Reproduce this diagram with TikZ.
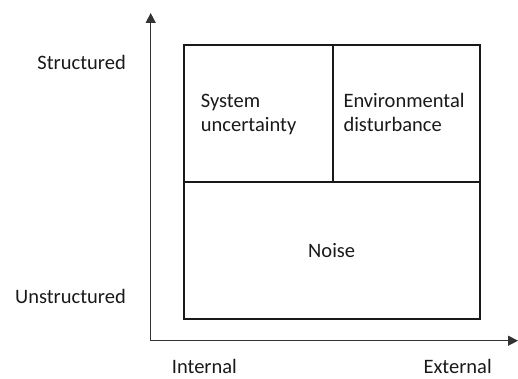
\documentclass[tikz,border=0pt]{standalone}
\usepackage{fontspec}
\setmainfont{Carlito}
\usetikzlibrary{arrows.meta}
\begin{document}
\begin{tikzpicture}[x=1pt,y=-1pt,
  cell/.style={draw=black!90, line width=2pt, inner sep=0pt, anchor=north west},
  axis/.style={draw=black!80, line width=1.4pt, -{Triangle[length=10pt,width=10pt]}},
  lbl/.style={font=\fontsize{20.5}{23.7}\selectfont, text=black!90, inner sep=0pt},
  ]
\useasboundingbox (0,0) rectangle (518,379);
\coordinate (o) at (150.7,340.7);
\coordinate (ytop) at (150.7,13);
\coordinate (xend) at (518,340.7);
\draw[axis] (o) -- (ytop);
\draw[axis] (o) -- (xend);
\node[cell, minimum width=149pt, minimum height=137.3pt] (sys) at (183.3,44) {};
\node[cell, minimum width=147pt, minimum height=137.3pt] (env) at (332.3,44) {};
\node[cell, minimum width=296pt, minimum height=137pt] (noise) at (183.3,181.3) {};
\node[lbl, anchor=base west, align=left] (t1) at (200.7,108) {System};
\node[lbl, anchor=base west, align=left] (t2) at (200.7,131.7) {uncertainty};
\node[lbl, anchor=base west, align=left] (t3) at (343.3,108) {Environmental};
\node[lbl, anchor=base west, align=left] (t4) at (343.3,131.7) {disturbance};
\node[lbl, anchor=base] (t5) at (331.7,257.3) {Noise};
\node[lbl, anchor=base east] (ys) at (126,70) {Structured};
\node[lbl, anchor=base east] (yu) at (126,303.3) {Unstructured};
\node[lbl, anchor=base west] (xi) at (171.7,373) {Internal};
\node[lbl, anchor=base west] (xe) at (423.3,373) {External};
\end{tikzpicture}
\end{document}
